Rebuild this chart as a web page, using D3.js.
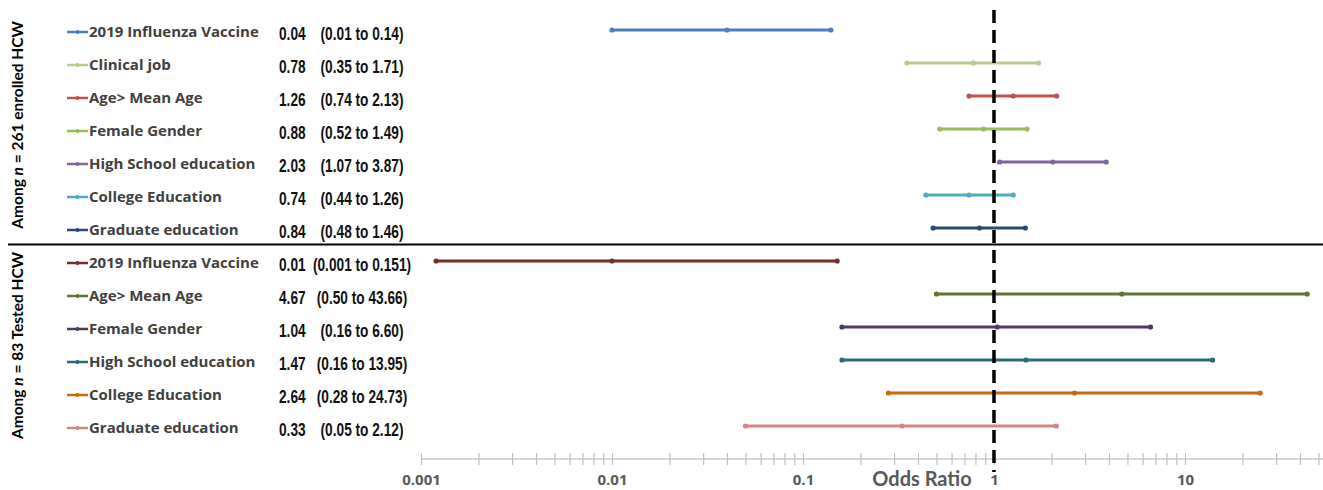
<!DOCTYPE html>
<html>
<head>
<meta charset="utf-8">
<script src="https://cdn.jsdelivr.net/npm/d3@7"></script>
<style>
  body { margin: 0; background: #fff; }
  svg { display: block; }
</style>
</head>
<body>
<div class="container"></div>
<script>
const w = 1323;
const h = 490;

// rows of the forest plot, top to bottom
const labels = [
  '2019 Influenza Vaccine', 'Clinical job', 'Age> Mean Age', 'Female Gender',
  'High School education', 'College Education', 'Graduate education',
  '2019 Influenza Vaccine', 'Age> Mean Age', 'Female Gender',
  'High School education', 'College Education', 'Graduate education'
];
const oddsRatio = [0.04, 0.78, 1.26, 0.88, 2.03, 0.74, 0.84, 0.01, 4.67, 1.04, 1.47, 2.64, 0.33];
const lower = [0.01, 0.35, 0.74, 0.52, 1.07, 0.44, 0.48, 0.0012, 0.50, 0.16, 0.16, 0.28, 0.05];
const upper = [0.14, 1.71, 2.13, 1.49, 3.87, 1.26, 1.46, 0.151, 43.66, 6.60, 13.95, 24.73, 2.12];
const orText = ['0.04', '0.78', '1.26', '0.88', '2.03', '0.74', '0.84', '0.01', '4.67', '1.04', '1.47', '2.64', '0.33'];
const ciText = [
  '(0.01 to 0.14)', '(0.35 to 1.71)', '(0.74 to 2.13)', '(0.52 to 1.49)', '(1.07 to 3.87)',
  '(0.44 to 1.26)', '(0.48 to 1.46)', '(0.001 to 0.151)', '(0.50 to 43.66)', '(0.16 to 6.60)',
  '(0.16 to 13.95)', '(0.28 to 24.73)', '(0.05 to 2.12)'
];
const colors = [
  '#4f7fb8', '#b5cc8a', '#c0504d', '#9bbb59', '#8064a2', '#4bacc6', '#274a78',
  '#7a2c2c', '#5f7530', '#4d3b62', '#276a7c', '#c8690f', '#d48486'
];
const groupTitles = ['261 enrolled HCW', '83 Tested HCW'];
const groupRows = [[0, 6], [7, 12]];
const tickLabels = [0.001, 0.01, 0.1, 1, 10];
const minorTicks = [];
[0.001, 0.01, 0.1, 1, 10].forEach(p => {
  for (let k = 1; k <= 9; k++) if (p * k <= 50) minorTicks.push(+(p * k).toPrecision(3));
});

const svg = d3.select('.container')
  .append('svg')
  .attr('width', w)
  .attr('height', h);

// scales
const x = d3.scaleLog()
  .domain([0.001, 52.8])
  .range([421, w]);

const y = d3.scalePoint()
  .domain(d3.range(labels.length))
  .range([30, 426]);

// x axis
const axisY = 459;
const xAxis = d3.axisBottom(x)
  .tickValues(minorTicks)
  .tickSize(6)
  .tickFormat(d => tickLabels.includes(d) ? String(d) : '');
const axisG = svg.append('g')
  .attr('transform', `translate(0, ${axisY})`)
  .call(xAxis);
axisG.select('.domain')
  .attr('d', `M${x(0.001)},0H${w}`)
  .attr('stroke', '#c8c8c8')
  .attr('stroke-width', 1.5);
axisG.selectAll('.tick line')
  .attr('y1', -6)
  .attr('y2', 6)
  .attr('stroke', '#c0c0c0')
  .attr('stroke-width', 1.2);
axisG.selectAll('.tick text')
  .attr('y', 26)
  .attr('dy', 0)
  .style('font-family', '"Open Sans", sans-serif')
  .style('font-weight', 700)
  .style('font-size', '15px')
  .attr('fill', '#595959');

svg.append('text')
  .text('Odds Ratio')
  .attr('x', 922)
  .attr('y', 486)
  .attr('text-anchor', 'middle')
  .style('font-family', 'Lato, sans-serif')
  .style('font-weight', 700)
  .style('font-size', '20px')
  .attr('fill', '#595959');

// separator between groups
const sepY = (y(6) + y(7)) / 2;
svg.append('line')
  .attr('x1', 8)
  .attr('x2', w)
  .attr('y1', sepY)
  .attr('y2', sepY)
  .attr('stroke', '#000')
  .attr('stroke-width', 2);

// CI lines and dots
const rows = svg.selectAll('g.row')
  .data(labels)
  .enter()
  .append('g')
  .attr('class', 'row');

rows.append('line')
  .attr('x1', (d, i) => x(lower[i]))
  .attr('x2', (d, i) => x(upper[i]))
  .attr('y1', (d, i) => y(i))
  .attr('y2', (d, i) => y(i))
  .attr('stroke', (d, i) => colors[i])
  .attr('stroke-width', 3);

rows.selectAll('circle')
  .data((d, i) => [lower[i], oddsRatio[i], upper[i]].map(v => ({v, i})))
  .enter()
  .append('circle')
  .attr('cx', d => x(d.v))
  .attr('cy', d => y(d.i))
  .attr('r', 2.6)
  .attr('fill', d => colors[d.i]);

// legend style markers + labels
rows.append('line')
  .attr('x1', 67)
  .attr('x2', 88)
  .attr('y1', (d, i) => y(i) + 2)
  .attr('y2', (d, i) => y(i) + 2)
  .attr('stroke', (d, i) => colors[i])
  .attr('stroke-width', 2.5);
rows.append('circle')
  .attr('cx', 77.5)
  .attr('cy', (d, i) => y(i) + 2)
  .attr('r', 2)
  .attr('fill', (d, i) => colors[i]);

rows.append('text')
  .text(d => d)
  .attr('x', 89)
  .attr('y', (d, i) => y(i) + 7)
  .style('font-family', '"Open Sans", sans-serif')
  .style('font-weight', 700)
  .style('font-size', '15px')
  .attr('fill', '#404040');

rows.append('text')
  .text((d, i) => orText[i])
  .attr('transform', (d, i) => `translate(279, ${y(i) + 10}) scale(0.74, 1)`)
  .style('font-family', '"Liberation Sans", sans-serif')
  .style('font-weight', 700)
  .style('font-size', '18.5px')
  .attr('fill', '#111');

rows.append('text')
  .text((d, i) => ciText[i])
  .attr('text-anchor', 'middle')
  .attr('transform', (d, i) => `translate(362, ${y(i) + 10}) scale(0.74, 1)`)
  .style('font-family', '"Liberation Sans", sans-serif')
  .style('font-weight', 700)
  .style('font-size', '18.5px')
  .attr('fill', '#111');

// reference line at OR = 1
svg.append('line')
  .attr('x1', x(1))
  .attr('x2', x(1))
  .attr('y1', 10)
  .attr('y2', 472)
  .attr('stroke', '#000')
  .attr('stroke-width', 3.5)
  .attr('stroke-dasharray', '13,7');

// rotated group titles
groupRows.forEach(([a, b], gi) => {
  const t = svg.append('text')
    .attr('text-anchor', 'middle')
    .attr('transform', `translate(23, ${(y(a) + y(b)) / 2 + (gi === 0 ? -4 : 2)}) rotate(-90)`)
    .style('font-family', 'Lato, sans-serif')
    .style('font-weight', 700)
    .style('font-size', '15.5px')
    .attr('fill', '#000');
  t.append('tspan').text('Among ');
  t.append('tspan').text('n').style('font-style', 'italic');
  t.append('tspan').text(' = ' + groupTitles[gi]);
});
</script>
</body>
</html>
